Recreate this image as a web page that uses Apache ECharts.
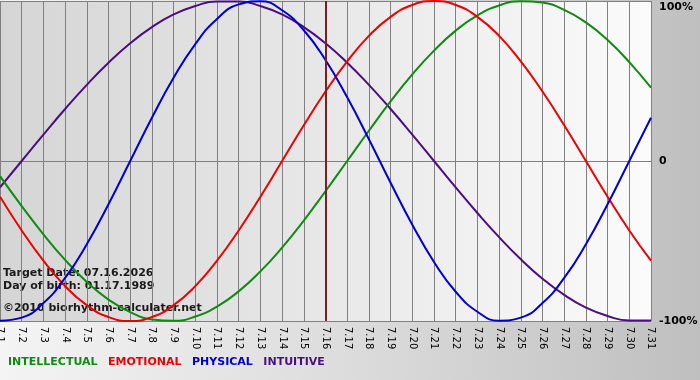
<!DOCTYPE html>
<html>
<head>
<meta charset="utf-8">
<script src="https://cdn.jsdelivr.net/npm/echarts@6/dist/echarts.min.js"></script>
<style>
html,body{margin:0;padding:0;}
#chart{width:700px;height:380px;background:linear-gradient(to right,#f4f4f4 0%,#dcdcdc 50%,#bfbfbf 100%);}
</style>
</head>
<body>
<div id="chart"></div>
<script>
var days = ['7.1','7.2','7.3','7.4','7.5','7.6','7.7','7.8','7.9','7.10','7.11','7.12','7.13','7.14','7.15','7.16','7.17','7.18','7.19','7.20','7.21','7.22','7.23','7.24','7.25','7.26','7.27','7.28','7.29','7.30','7.31'];
var intellectual = [-0.095,-0.282,-0.458,-0.618,-0.756,-0.866,-0.945,-0.990,-0.999,-0.972,-0.910,-0.815,-0.690,-0.541,-0.372,-0.189,0,0.189,0.372,0.541,0.690,0.815,0.910,0.972,0.999,0.990,0.945,0.866,0.756,0.618,0.458];
var emotional = [-0.223,-0.434,-0.623,-0.782,-0.901,-0.975,-1,-0.975,-0.901,-0.782,-0.623,-0.434,-0.223,0,0.223,0.434,0.623,0.782,0.901,0.975,1,0.975,0.901,0.782,0.623,0.434,0.223,0,-0.223,-0.434,-0.623];
var physical = [-0.998,-0.979,-0.888,-0.731,-0.520,-0.270,0,0.270,0.520,0.731,0.888,0.979,0.998,0.942,0.817,0.631,0.398,0.136,-0.136,-0.398,-0.631,-0.817,-0.942,-0.998,-0.979,-0.888,-0.731,-0.520,-0.270,0,0.270];
var intuitive = [-0.165,0,0.165,0.325,0.476,0.614,0.736,0.837,0.916,0.969,0.997,0.997,0.969,0.916,0.837,0.736,0.614,0.476,0.325,0.165,0,-0.165,-0.325,-0.476,-0.614,-0.736,-0.837,-0.916,-0.969,-0.997,-0.997];
var seriesNames = ['INTELLECTUAL','EMOTIONAL','PHYSICAL','INTUITIVE'];
var seriesColors = ['#118a11','#ee0000','#0000d0','#4a0e82'];
var yTickValues = [-1,0,1];
var yTickLabels = ['-100%','0','100%'];
var targetDay = '7.16';
var infoLines = ['Target Date: 07.16.2026','Day of birth: 01.17.1989','\u00a92010 biorhythm-calculater.net'];

var chart = echarts.init(document.getElementById('chart'), null, {renderer:'canvas'});
var allData = [intellectual, emotional, physical, intuitive];
var font = 'DejaVu Sans, Verdana, sans-serif';

var series = seriesNames.map(function(n,i){
  var s = {
    name: n, type: 'line', data: allData[i], smooth: true, showSymbol: false,
    lineStyle: {color: seriesColors[i], width: 2}, itemStyle: {color: seriesColors[i]},
    silent: true
  };
  if (i === 0) {
    s.markLine = {silent:true, symbol:['none','none'], label:{show:false},
      lineStyle:{color:'#7d1f1f', width:2, type:'solid'},
      data:[{xAxis: targetDay}]};
  }
  return s;
});
series = [series[3], series[0], series[1], series[2]];

chart.setOption({
  animation: false,
  backgroundColor: 'transparent',
  grid: {left: 0, right: 49, top: 1, bottom: 59, show: true, borderWidth: 0,
    containLabel: false, outerBoundsMode: 'none',
    backgroundColor: {type:'linear', x:0, y:0, x2:1, y2:0,
      colorStops:[{offset:0,color:'#d5d5d5'},{offset:1,color:'#fbfbfb'}]}},
  legend: {
    left: -2, top: 351, icon: 'none', itemWidth: 0, itemHeight: 12, itemGap: 5.5,
    selectedMode: false,
    data: seriesNames.map(function(n,i){return {name:n, textStyle:{color:seriesColors[i]}};}),
    textStyle: {fontFamily: font, fontWeight: 'bold', fontSize: 11}
  },
  xAxis: {
    type: 'category', data: days, boundaryGap: false,
    axisLine: {show: true, lineStyle: {color: '#808080', width: 1}},
    axisTick: {show: true, interval: 0, length: 5, lineStyle: {color: '#808080'}},
    axisLabel: {interval: 0, rotate: -90, fontSize: 10, fontFamily: font, color: '#000', margin: 6},
    splitLine: {show: true, interval: 0, lineStyle: {color: '#808080', width: 1}}
  },
  yAxis: {
    type: 'value', min: -1, max: 1, interval: 1, position: 'right',
    axisLine: {show: false}, axisTick: {show: false},
    splitLine: {show: true, lineStyle: {color: '#808080', width: 1}},
    axisLabel: {margin: 8, fontFamily: font, fontWeight: 'bold', fontSize: 11, color: '#000',
      formatter: function(v){
        var idx = yTickValues.indexOf(v);
        var t = yTickLabels[idx];
        return v === 1 ? '{t|' + t + '}' : t;
      },
      rich: {t: {fontFamily: font, fontWeight: 'bold', fontSize: 11, color: '#000', padding: [12,0,0,0]}}
    }
  },
  graphic: [
    {type:'text', left: 3, top: 268, silent:true, style:{text: infoLines[0], fill:'#1a1a1a', font:'bold 11px DejaVu Sans'}},
    {type:'text', left: 3, top: 281, silent:true, style:{text: infoLines[1], fill:'#1a1a1a', font:'bold 11px DejaVu Sans'}},
    {type:'text', left: 3, top: 303, silent:true, style:{text: infoLines[2], fill:'#1a1a1a', font:'bold 11px DejaVu Sans'}}
  ],
  series: series
});
</script>
</body>
</html>
